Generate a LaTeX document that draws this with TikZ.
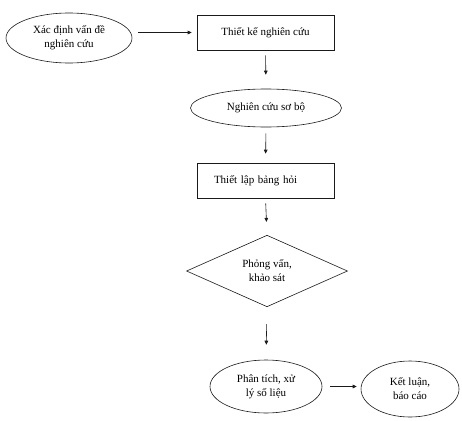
\documentclass[tikz,border=0pt]{standalone}
\usepackage{fontspec}
\setmainfont{Liberation Serif}
\usetikzlibrary{arrows.meta,positioning,shapes.geometric}
\definecolor{FlowLine}{HTML}{1A1A1A}
\tikzset{
  flowtext/.style={font=\fontsize{11}{14}\selectfont, align=center, text=black},
  stepell/.style={flowtext, draw=FlowLine, ellipse, line width=0.6pt, inner sep=0pt},
  steprect/.style={flowtext, draw=FlowLine, rectangle, line width=0.6pt,
                   minimum width=137pt, minimum height=35pt, inner sep=0pt},
  stepdiam/.style={flowtext, draw=FlowLine, diamond, line width=0.6pt,
                   minimum width=161pt, minimum height=68pt, inner sep=0pt},
  arrow/.style={-{Triangle[length=4pt,width=3.6pt]}, line width=0.6pt, FlowLine},
}

\begin{document}
\begin{tikzpicture}[x=1pt, y=-1pt]
  \useasboundingbox (0,0) rectangle (462,420);

  \node[stepell, minimum width=126pt, minimum height=50pt] (xacdinh) at (69,38)
        {Xác định vấn đề\\nghiên cứu};
  \node[steprect] (thietke) at (265.5,32.5) {Thiết kế nghiên cứu};
  \node[stepell, minimum width=151pt, minimum height=38pt] (sobo) at (266,108)
        {Nghiên cứu sơ bộ};
  \node[steprect, align=left, text width=103pt, inner xsep=17pt] (banghoi) at (265.5,180.5)
        {Thiết lập bảng hỏi};
  \node[stepdiam] (khaosat) at (267,271) {Phỏng vấn,\\khảo sát};
  \node[stepell, minimum width=112pt, minimum height=53pt] (phantich) at (266,386.5)
        {Phân tích, xử\\lý số liệu};
  \node[stepell, minimum width=98pt, minimum height=56pt] (ketluan) at (410,389)
        {Kết luận,\\báo cáo};

  \draw[arrow, shorten <=6pt, shorten >=5pt] (xacdinh.east |- thietke.west) -- (thietke.west);
  \draw[arrow, shorten <=5pt, shorten >=14pt] (thietke.south) -- (sobo.north);
  \draw[arrow, shorten <=6pt, shorten >=9pt] (sobo.south) -- (banghoi.north);
  \draw[arrow, shorten <=5pt, shorten >=13pt] (banghoi.south) -- (khaosat.north);
  \draw[arrow, shorten <=17pt, shorten >=15pt] (khaosat.south) -- (phantich.north);
  \draw[arrow, shorten <=8pt, shorten >=4pt] (phantich.east) -- (phantich.east -| ketluan.west);

\end{tikzpicture}
\end{document}
